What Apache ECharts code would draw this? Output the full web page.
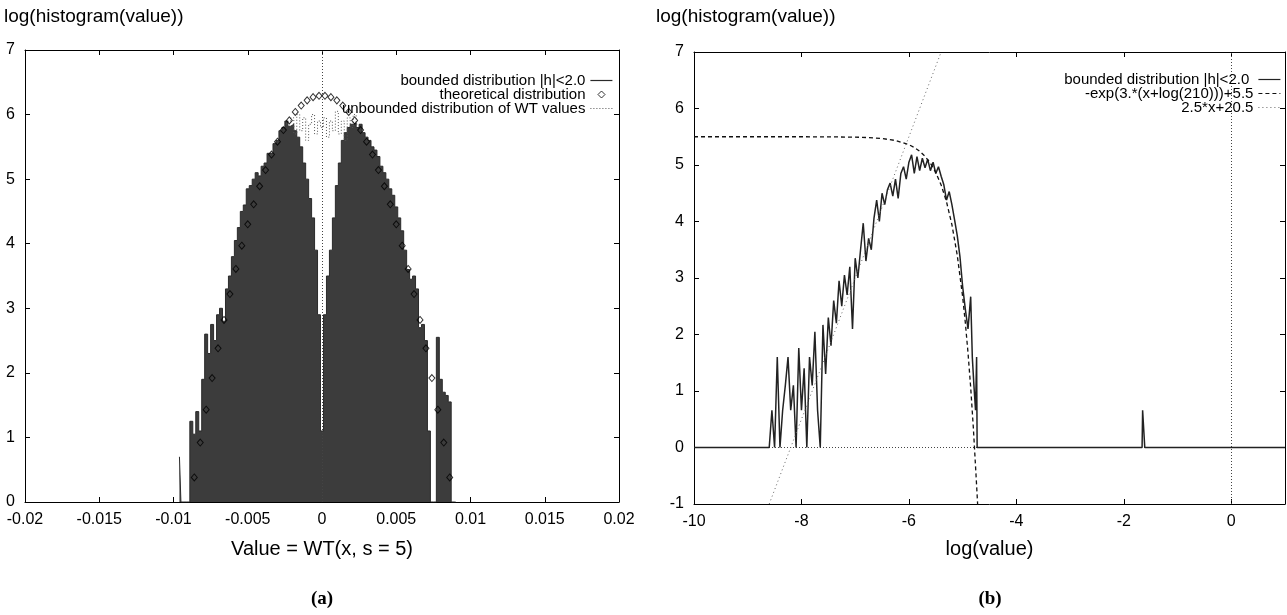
<!DOCTYPE html>
<html><head><meta charset="utf-8">
<script src="https://cdn.jsdelivr.net/npm/echarts@6/dist/echarts.min.js"></script>
<style>html,body{margin:0;padding:0;background:#fff}#c{width:1287px;height:615px}</style>
</head><body><div id="c"></div>
<script>
const FONT = '"Liberation Sans", Arial, sans-serif';

// ---------- Panel (a) data ----------
const yTicksA = [0, 7, 1];                 // min, max, interval
const xTicksA = [-0.02, 0.02, 0.005];
const binStartA = -0.0096, binStepA = 0.0002;   // bin centres
const histA = [
  0.7, 0, 0, 0, 1.25, 1.05, 1.4, 1.1, 1.9, 2.6, 2.3, 2.75, 2.5, 2.9, 3.0, 2.8,
  3.3, 3.5, 3.8, 4.05, 4.25, 4.5, 4.6, 4.85, 4.9, 5.0, 5.1, 5.05, 5.2, 5.25, 5.4, 5.4,
  5.55, 5.6, 5.75, 5.8, 5.9, 5.82, 5.85, 5.75, 5.65, 5.5, 5.25, 5.0, 4.7, 4.4, 3.9, 2.9,
  1.1,
  2.9, 3.5, 3.9, 4.4, 4.9, 5.25, 5.6, 5.72, 5.8, 5.85, 5.87, 5.8, 5.85, 5.72, 5.65, 5.6,
  5.5, 5.45, 5.35, 5.2, 5.1, 5.0, 4.85, 4.75, 4.57, 4.4, 4.2, 3.9, 3.6, 3.45, 3.5, 3.3,
  2.7, 2.75, 2.5, 1.1, 0, 0, 2.55, 1.9, 1.7, 1.65, 1.55, 0, 0
];
const theoryX = [
  -0.0086, -0.0082, -0.0078, -0.0074, -0.0070, -0.0066, -0.0062, -0.0058, -0.0054, -0.0050, -0.0046,
  -0.0042, -0.0038, -0.0034, -0.0030, -0.0026, -0.0022, -0.0018, -0.0014, -0.0010, -0.0006, -0.0002,
  0.0002, 0.0006, 0.0010, 0.0014, 0.0018, 0.0022, 0.0026, 0.0030, 0.0034, 0.0038, 0.0042,
  0.0046, 0.0050, 0.0054, 0.0058, 0.0062, 0.0066, 0.0070, 0.0074, 0.0078, 0.0082, 0.0086
];
const theoryY = [
  0.38, 0.92, 1.43, 1.92, 2.38, 2.82, 3.22, 3.61, 3.97, 4.30, 4.61,
  4.89, 5.14, 5.38, 5.58, 5.76, 5.91, 6.04, 6.14, 6.22, 6.27, 6.29,
  6.29, 6.27, 6.22, 6.14, 6.04, 5.91, 5.76, 5.58, 5.38, 5.14, 4.89,
  4.61, 4.30, 3.97, 3.61, 3.22, 2.82, 2.38, 1.92, 1.43, 0.92, 0.38
];
const unbStartA = -0.0024, unbStepA = 0.0002;
const unboundedA = [
  5.85, 5.9, 5.95, 5.7, 6.0, 5.75, 5.95, 5.6, 5.85, 6.0, 5.7, 5.9, 5.8,
  5.95, 5.65, 5.9, 5.75, 6.05, 5.7, 5.9, 5.6, 5.95, 5.8, 6.0, 5.85
];

// ---------- Panel (b) data ----------
const yTicksB = [-1, 7, 1];
const xTicksB = [-10, 1, 2];
const logValueB = [
  -10, -8.6, -8.55, -8.5, -8.45, -8.4, -8.35, -8.3, -8.25, -8.2, -8.15, -8.1, -8.05, -8.0,
  -7.95, -7.9, -7.85, -7.8, -7.75, -7.7, -7.65,
  -7.6, -7.55, -7.5, -7.45, -7.4, -7.35, -7.3, -7.25, -7.2, -7.15, -7.1, -7.05, -7.0,
  -6.95, -6.9, -6.85, -6.8, -6.75, -6.7, -6.65, -6.6, -6.55, -6.5, -6.45, -6.4, -6.35,
  -6.3, -6.25, -6.2, -6.15, -6.1, -6.05, -6.0, -5.95, -5.9, -5.85, -5.8, -5.75, -5.7,
  -5.65, -5.6, -5.55, -5.5, -5.45, -5.4, -5.35, -5.3, -5.25, -5.2, -5.15, -5.1, -5.05,
  -5.0, -4.95, -4.9, -4.85, -4.82, -4.79, -4.76, -4.74, -4.73,
  -1.66, -1.65, -1.62, -1.61, 1
];
const logCountB = [
  0, 0, 0.66, 0, 1.6, 0, 0.66, 1.1, 1.6, 0.66, 1.1, 0, 1.76, 0.66,
  1.4, 0, 1.6, 1.1, 2.05, 0.66, 0,
  2.17, 1.3, 2.3, 1.8, 2.6, 2.2, 2.95, 2.5, 3.05, 2.7, 3.2, 2.1, 3.35,
  3.0, 3.5, 3.97, 3.3, 3.7, 3.5, 4.06, 4.38, 4.0, 4.5, 4.3, 4.56, 4.68,
  4.45, 4.75, 4.41, 4.85, 4.97, 4.75, 5.05, 5.18, 4.85, 5.15, 4.9, 5.12, 4.95,
  5.1, 4.9, 5.05, 4.85, 4.97, 4.8, 4.65, 4.38, 4.53, 4.3, 4.03, 3.75, 3.38,
  2.85, 2.45, 2.1, 2.67, 1.6, 1.1, 0.66, 1.6, 0,
  0, 0.66, 0.66, 0, 0
];
const fitX = [-10, -8, -7.5, -7, -6.75, -6.5, -6.25, -6, -5.9, -5.8, -5.7, -5.6, -5.5,
  -5.4, -5.3, -5.2, -5.1, -5, -4.95, -4.9, -4.85, -4.8, -4.75, -4.72];
const fitY = [5.5, 5.5, 5.498, 5.493, 5.485, 5.468, 5.434, 5.359, 5.31, 5.243, 5.153, 5.032, 4.868,
  4.647, 4.349, 3.946, 3.402, 2.668, 2.21, 1.677, 1.06, 0.339, -0.5, -1.02];
const linX = [-8.6, -5.4];
const linY = [-1, 7];

const legendNamesA = ['bounded distribution |h|<2.0', 'theoretical distribution', 'unbounded distribution of WT values'];
const legendNamesB = ['bounded distribution |h|<2.0 ', '-exp(3.*(x+log(210)))+5.5', '2.5*x+20.5'];

// ---------- build ----------
const zip = (xs, ys) => xs.map((x, i) => [x, ys[i]]);
const histAData = histA.map((v, i) => [+(binStartA + i * binStepA).toFixed(5), v]);
const unbAData = unboundedA.map((v, i) => [+(unbStartA + i * unbStepA).toFixed(5), v]);

const axisCommon = {
  axisLine: {show: true, onZero: false, lineStyle: {color: '#000', width: 1}},
  axisTick: {show: true, inside: true, length: 5, lineStyle: {color: '#000', width: 1}},
  splitLine: {show: false},
  axisLabel: {color: '#000', fontSize: 16, fontFamily: FONT, margin: 10}
};
function xAx(grid, t, pos, labels, extra) {
  return Object.assign({}, axisCommon, {
    type: 'value', gridIndex: grid, position: pos, min: t[0], max: t[1], interval: t[2],
    axisLabel: Object.assign({}, axisCommon.axisLabel, {show: labels, showMaxLabel: t[1] !== 1, showMinLabel: true})
  }, extra || {});
}
function yAx(grid, t, pos, labels) {
  return Object.assign({}, axisCommon, {
    type: 'value', gridIndex: grid, position: pos, min: t[0], max: t[1], interval: t[2],
    axisLabel: Object.assign({}, axisCommon.axisLabel, {show: labels})
  });
}
const zeroLine = {type: [1, 2], color: '#444', width: 1};
const DIAMOND_ICON = 'path://M0,0M22,0M22,14M0,14M11,3.5L14.5,7L11,10.5L7.5,7Z';

function mkLegend(name, right, top, isSymbol) {
  return {
    orient: 'vertical', align: 'right', right: right, top: top, padding: 0,
    itemWidth: 22, itemHeight: 14, selectedMode: false,
    textStyle: {fontSize: 15, color: '#000', fontFamily: FONT},
    itemStyle: isSymbol ? {borderWidth: 1, borderColor: '#000', color: 'rgba(0,0,0,0)'} : {},
    lineStyle: {width: 1.2},
    data: [isSymbol ? {name: name, icon: DIAMOND_ICON} : {name: name, itemStyle: {opacity: 0}}]
  };
}

const option = {
  animation: false,
  backgroundColor: '#fff',
  textStyle: {fontFamily: FONT, color: '#000'},
  grid: [
    {left: 25, right: 668, top: 50, bottom: 113, outerBoundsMode: 'none', containLabel: false},
    {left: 694, right: 2, top: 52, bottom: 111, outerBoundsMode: 'none', containLabel: false}
  ],
  xAxis: [
    xAx(0, xTicksA, 'bottom', true, {name: 'Value = WT(x, s = 5)', nameLocation: 'middle', nameGap: 37,
      nameTextStyle: {fontSize: 20, color: '#000', fontFamily: FONT}}),
    xAx(0, xTicksA, 'top', false),
    xAx(1, xTicksB, 'bottom', true, {name: 'log(value)', nameLocation: 'middle', nameGap: 35,
      nameTextStyle: {fontSize: 20, color: '#000', fontFamily: FONT}}),
    xAx(1, xTicksB, 'top', false)
  ],
  yAxis: [
    yAx(0, yTicksA, 'left', true),
    yAx(0, yTicksA, 'right', false),
    yAx(1, yTicksB, 'left', true),
    yAx(1, yTicksB, 'right', false)
  ],
  legend: [
    mkLegend(legendNamesA[0], 674, 73, false),
    mkLegend(legendNamesA[1], 674, 87, true),
    mkLegend(legendNamesA[2], 674, 101, false),
    mkLegend(legendNamesB[0], 6, 72, false),
    mkLegend(legendNamesB[1], 6, 86, false),
    mkLegend(legendNamesB[2], 6, 100, false)
  ],
  graphic: [
    {type: 'text', x: 4, y: 7, style: {text: 'log(histogram(value))', font: '19px ' + FONT, fill: '#000'}},
    {type: 'text', x: 656, y: 7, style: {text: 'log(histogram(value))', font: '19px ' + FONT, fill: '#000'}},
    {type: 'text', x: 322, y: 590, style: {text: '(a)', font: 'bold 19px "Liberation Serif", serif', fill: '#000', textAlign: 'center'}},
    {type: 'text', x: 990, y: 590, style: {text: '(b)', font: 'bold 19px "Liberation Serif", serif', fill: '#000', textAlign: 'center'}}
  ],
  series: [
    {
      name: legendNamesA[0], type: 'line', xAxisIndex: 0, yAxisIndex: 0, step: 'middle',
      data: histAData, symbol: 'none', z: 2,
      lineStyle: {color: '#2a2a2a', width: 1},
      itemStyle: {color: '#000'},
      areaStyle: {color: '#3c3c3c', opacity: 1},
      markLine: {silent: true, symbol: ['none', 'none'], label: {show: false},
        lineStyle: zeroLine, data: [{xAxis: 0}]}
    },
    {
      name: legendNamesA[1], type: 'scatter', xAxisIndex: 0, yAxisIndex: 0, z: 4,
      data: zip(theoryX, theoryY), symbol: 'diamond', symbolSize: [6, 7],
      itemStyle: {color: 'rgba(0,0,0,0)', borderColor: '#000', borderWidth: 1}
    },
    {
      name: legendNamesA[2], type: 'line', xAxisIndex: 0, yAxisIndex: 0, step: 'middle', z: 3,
      data: unbAData, symbol: 'none',
      lineStyle: {color: '#555', width: 1, type: [1, 2]}, itemStyle: {color: '#555'}
    },
    {
      name: legendNamesB[0], type: 'line', xAxisIndex: 2, yAxisIndex: 2, z: 3,
      data: zip(logValueB, logCountB), symbol: 'none',
      lineStyle: {color: '#222', width: 1.5}, itemStyle: {color: '#000'},
      markLine: {silent: true, symbol: ['none', 'none'], label: {show: false}, z: 1,
        lineStyle: zeroLine, data: [{xAxis: 0}, {yAxis: 0}]}
    },
    {
      name: legendNamesB[1], type: 'line', xAxisIndex: 2, yAxisIndex: 2, z: 4,
      data: zip(fitX, fitY), symbol: 'none',
      lineStyle: {color: '#111', width: 1.3, type: [4, 3]}, itemStyle: {color: '#000'}
    },
    {
      name: legendNamesB[2], type: 'line', xAxisIndex: 2, yAxisIndex: 2, z: 4,
      data: zip(linX, linY), symbol: 'none',
      lineStyle: {color: '#666', width: 1, type: [1, 3]}, itemStyle: {color: '#666'}
    }
  ]
};

const chart = echarts.init(document.getElementById('c'), null, {renderer: 'canvas'});
chart.setOption(option);
</script></body></html>
